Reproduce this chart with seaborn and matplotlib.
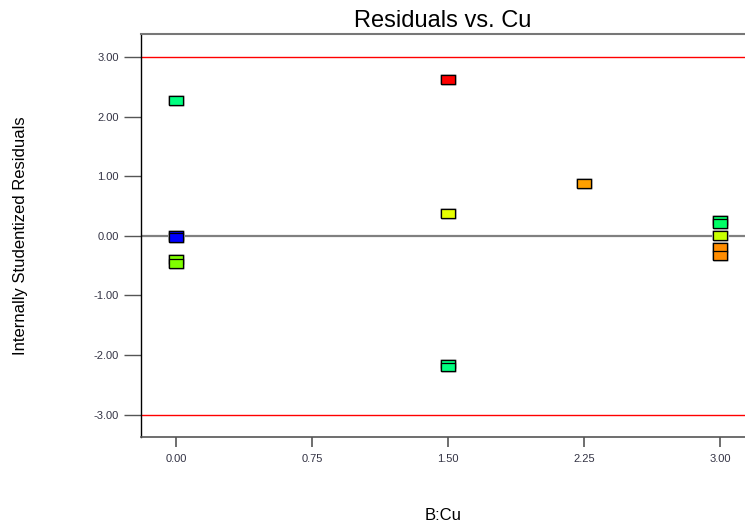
import matplotlib
matplotlib.use("Agg")
import matplotlib.pyplot as plt
import matplotlib.patheffects as pe
import seaborn as sns
import pandas as pd

# residual data
cu = [0.0, 0.0, 0.0, 0.0, 0.0,
      1.5, 1.5, 1.5, 1.5,
      2.25,
      3.0, 3.0, 3.0, 3.0, 3.0]
residuals = [2.27, 0.0, -0.03, -0.40, -0.47,
             2.62, 0.38, -2.15, -2.20,
             0.88,
             0.25, 0.21, 0.0, -0.20, -0.33]
level = ["green", "blue", "blue", "lime", "lime",
         "red", "yellow", "green", "green",
         "orange",
         "green2", "green2", "chartreuse", "dorange", "dorange"]

palette = {
    "green": "#00ff80",
    "green2": "#00ff66",
    "blue": "#0000ff",
    "lime": "#80ff00",
    "red": "#ff0000",
    "yellow": "#e6ff00",
    "orange": "#ffa000",
    "chartreuse": "#c8ff00",
    "dorange": "#ff8c00",
}

df = pd.DataFrame({"B:Cu": cu, "resid": residuals, "level": level})

sns.set_style("white")
plt.rcParams["font.family"] = ["Liberation Sans", "DejaVu Sans"]

fig = plt.figure(figsize=(7.45, 5.23), dpi=100)
ax = fig.add_axes([141 / 745, 86 / 523, 1 - 141 / 745, 403 / 523])

ax.axhline(3, color="#ff0000", lw=1.0, zorder=1)
ax.axhline(-3, color="#ff0000", lw=1.0, zorder=1)
ax.axhline(0, color="#808080", lw=1.6, zorder=1)

rect = [(-1, -0.64), (1, -0.64), (1, 0.64), (-1, 0.64), (-1, -0.64)]
sns.scatterplot(data=df, x="B:Cu", y="resid", hue="level", palette=palette,
                marker=rect, s=100, edgecolor="black", linewidth=0.9,
                legend=False, ax=ax, zorder=3,
                path_effects=[pe.Stroke(linewidth=2, foreground="#b8b8b8"), pe.Normal()])

ax.set_xlim(-0.193, 3.138)
ax.set_ylim(-3.375, 3.385)
ax.set_xticks([0.0, 0.75, 1.5, 2.25, 3.0])
ax.set_xticklabels(["0.00", "0.75", "1.50", "2.25", "3.00"])
ax.set_yticks([-3, -2, -1, 0, 1, 2, 3])
ax.set_yticklabels(["-3.00", "-2.00", "-1.00", "0.00", "1.00", "2.00", "3.00"])
ax.tick_params(axis="y", direction="out", length=12, width=1, color="#555555",
               labelsize=8, labelcolor="#333344", pad=4, left=True)
ax.tick_params(axis="x", direction="out", length=7, width=1.2, color="#555555",
               labelsize=8, labelcolor="#333344", pad=5, bottom=True)

ax.spines["left"].set_color("black")
ax.spines["left"].set_linewidth(1.0)
ax.spines["bottom"].set_color("#555555")
ax.spines["bottom"].set_linewidth(1.2)
ax.spines["top"].set_color("#777777")
ax.spines["top"].set_linewidth(1.5)
ax.spines["right"].set_visible(False)

ax.set_title("Residuals vs. Cu", fontsize=17, pad=5, color="black")
ax.set_xlabel("B:Cu", fontsize=12, color="black")
ax.set_ylabel("Internally Studentized Residuals", fontsize=12, color="black")
ax.xaxis.set_label_coords(0.5, -0.194)
ax.xaxis.label.set_va("center")
ax.yaxis.set_label_coords(-0.2, 0.5)
ax.yaxis.label.set_va("center")

fig.savefig("out.png", dpi=100)
